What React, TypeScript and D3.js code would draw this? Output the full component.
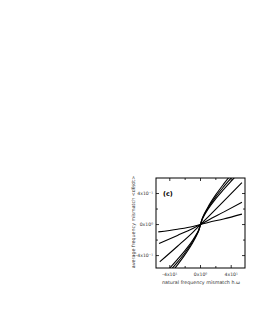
import React from 'react'
import * as d3 from 'd3'

// curve samples (x in tick units, y in tick units)
const xShallow = [-5.5, -3, -1, 0, 1, 3, 5.4]
const yShallow = [-0.95, -0.6, -0.25, 0, 0.27, 0.72, 1.35]
const xMid = [-5.4, -3, -1, 0, 1, 3, 5.4]
const yMid = [-2.45, -1.4, -0.5, 0, 0.55, 1.6, 2.88]
const xLin = [-5.3, -3, -1, 0, 1, 3, 5.4]
const yLin = [-4.8, -2.8, -1.0, 0, 1.0, 3.0, 5.4]
const xSteep = [-5, -4, -3, -2, -1, -0.5, -0.2, 0, 0.2, 0.5, 1, 2, 3, 4, 5]
const ySteepA = [-7.7, -6.45, -5.2, -3.85, -2.3, -1.38, -0.7, 0, 0.7, 1.38, 2.3, 3.85, 5.2, 6.45, 7.7]
const ySteepB = [-7.2, -6.0, -4.85, -3.6, -2.15, -1.29, -0.65, 0, 0.65, 1.29, 2.15, 3.6, 4.85, 6.0, 7.2]
const ySteepC = [-6.65, -5.6, -4.5, -3.34, -2.0, -1.2, -0.6, 0, 0.6, 1.2, 2.0, 3.34, 4.5, 5.6, 6.65]

const tickVals = [-4, -2, 0, 2, 4]
const xTickLabels = ['-4x10\u00b9', '', '0x10\u2070', '', '4x10\u00b9']
const yTickLabels = ['-4x10\u207b\u00b9', '', '0x10\u2070', '', '4x10\u207b\u00b9']

export default function App() {
  const x = d3.scaleLinear().domain([-5.8, 5.8]).range([156, 245])
  const y = d3.scaleLinear().domain([-5.6, 6.0]).range([268, 178])

  const series = [
    [xShallow, yShallow],
    [xMid, yMid],
    [xLin, yLin],
    [xSteep, ySteepA],
    [xSteep, ySteepB],
    [xSteep, ySteepC],
  ]
  const line = d3.line<[number, number]>()
    .x(d => x(d[0]))
    .y(d => y(d[1]))
    .curve(d3.curveMonotoneX)

  const font = 'DejaVu Sans, sans-serif'

  return (
    <svg width={258} height={333} style={{ position: 'absolute', left: 0, top: 0, background: '#fff' }}>
      <defs>
        <clipPath id="plot">
          <rect x={156} y={178} width={89} height={90} />
        </clipPath>
      </defs>
      <g clipPath="url(#plot)">
        {series.map(([xs, ys], i) => (
          <path key={i} d={line(xs.map((v, j) => [v, ys[j]]) as [number, number][]) || ''}
            fill="none" stroke="#000" strokeWidth={1.1} />
        ))}
      </g>
      <rect x={156} y={178} width={89} height={90} fill="none" stroke="#000" strokeWidth={1} />
      {tickVals.map((t, i) => {
        const len = t % 4 === 0 ? 3 : 2
        return (
          <g key={i} stroke="#000" strokeWidth={0.8}>
            <line x1={x(t)} x2={x(t)} y1={268} y2={268 - len} />
            <line x1={x(t)} x2={x(t)} y1={178} y2={178 + len} />
            <line x1={156} x2={156 + len} y1={y(t)} y2={y(t)} />
            <line x1={245} x2={245 - len} y1={y(t)} y2={y(t)} />
          </g>
        )
      })}
      {tickVals.map((t, i) => (
        <text key={'x' + i} x={x(t)} y={276} fontSize={4.6} fontFamily={font} textAnchor="middle" fill="#333">
          {xTickLabels[i]}
        </text>
      ))}
      {tickVals.map((t, i) => (
        <text key={'y' + i} x={153} y={y(t) + 1.6} fontSize={4.6} fontFamily={font} textAnchor="end" fill="#333">
          {yTickLabels[i]}
        </text>
      ))}
      <text x={201} y={283.5} fontSize={4.8} fontFamily={font} textAnchor="middle" fill="#333">
        natural frequency mismatch h.ω
      </text>
      <text transform="translate(134.5,222) rotate(-90)" fontSize={4.8} fontFamily={font} textAnchor="middle" fill="#333">
        average frequency mismatch &lt;dθ/dt&gt;
      </text>
      <text x={163} y={195.5} fontSize={6.5} fontFamily={font} fontWeight="bold" fill="#000">
        (c)
      </text>
    </svg>
  )
}
